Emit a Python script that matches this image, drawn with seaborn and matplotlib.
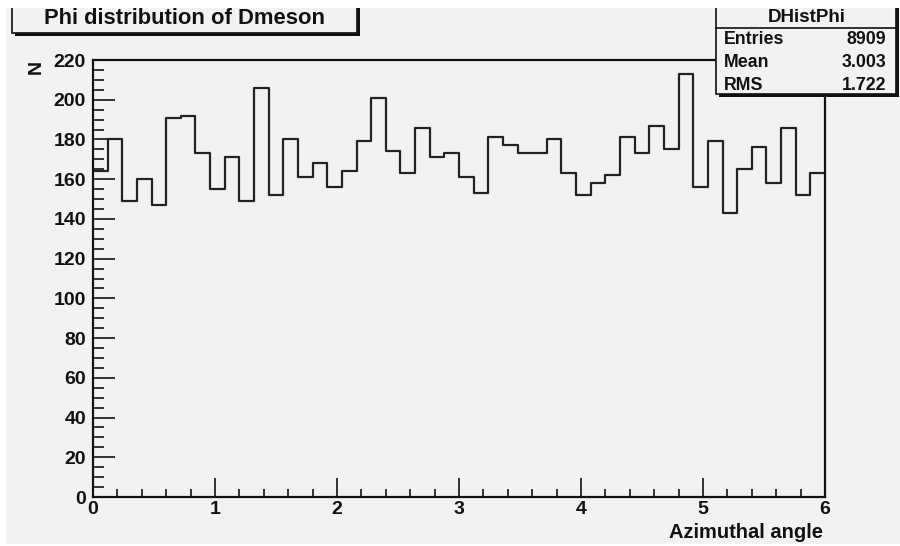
import numpy as np
import pandas as pd
import matplotlib
matplotlib.use("Agg")
import matplotlib.pyplot as plt
from matplotlib.patches import Rectangle
from matplotlib.ticker import MultipleLocator
import seaborn as sns

# ---- data ----
counts = [164, 180, 149, 160, 147, 191, 192, 173, 155, 171,
          149, 206, 152, 180, 161, 168, 156, 164, 179, 201,
          174, 163, 186, 171, 173, 161, 153, 181, 177, 173,
          173, 180, 163, 152, 158, 162, 181, 173, 187, 175,
          213, 156, 179, 143, 165, 176, 158, 186, 152, 163]
n_bins = 50
x_range = (0.0, 6.0)
x_ticks = [0, 1, 2, 3, 4, 5, 6]
y_ticks = [0, 20, 40, 60, 80, 100, 120, 140, 160, 180, 200, 220]
title = "Phi distribution of Dmeson"
x_label = "Azimuthal angle"
y_label = "N"
stats_name = "DHistPhi"
stats_rows = [("Entries", "8909"), ("Mean", "3.003"), ("RMS", "1.722")]

edges = np.linspace(x_range[0], x_range[1], n_bins + 1)
centers = (edges[:-1] + edges[1:]) / 2
df = pd.DataFrame({"phi": centers, "N": counts})

sns.set_theme(style="white")
plt.rcParams["font.family"] = ["Liberation Sans", "DejaVu Sans"]
plt.rcParams["font.weight"] = "bold"

W, H = 900, 546
BG = "#f2f2f2"
INK = "#111111"
fig = plt.figure(figsize=(9, 5.46), dpi=100, facecolor="white")


def fx(px):
    return px / W


def fy(py):
    return 1 - py / H


# gray canvas
fig.patches.append(Rectangle((fx(6), fy(544)), fx(894) - fx(0), fy(8) - fy(544),
                             transform=fig.transFigure, facecolor=BG,
                             edgecolor="none", zorder=-10))

ax = fig.add_axes([fx(93), fy(497), fx(825) - fx(93), fy(60) - fy(497)])
ax.set_facecolor(BG)

sns.histplot(data=df, x="phi", weights="N", bins=n_bins, binrange=x_range,
             element="step", fill=False, color="#222222", linewidth=1.6, ax=ax)

ax.set_xlim(*x_range)
ax.set_ylim(0, 220)
ax.set_xticks(x_ticks)
ax.set_yticks(y_ticks)
ax.xaxis.set_minor_locator(MultipleLocator(0.2))
ax.yaxis.set_minor_locator(MultipleLocator(5))
ax.tick_params(axis="x", which="major", direction="in", length=13.5, width=1.2,
               bottom=True, top=False, labelsize=14, pad=3, color=INK)
ax.tick_params(axis="x", which="minor", direction="in", length=6, width=1.2,
               bottom=True, top=False, color=INK)
ax.tick_params(axis="y", which="major", direction="in", length=16, width=1.2,
               left=True, right=False, labelsize=14, pad=5, color=INK)
ax.tick_params(axis="y", which="minor", direction="in", length=8, width=1.2,
               left=True, right=False, color=INK)
for lab in ax.get_xticklabels() + ax.get_yticklabels():
    lab.set_fontweight("bold")
    lab.set_color(INK)
for sp in ax.spines.values():
    sp.set_visible(True)
    sp.set_color(INK)
    sp.set_linewidth(1.6)

ax.set_xlabel("")
ax.set_ylabel("")
fig.text(fx(823), fy(532), x_label, ha="right", va="center", fontsize=14.5,
         fontweight="bold", color=INK)
fig.text(fx(36), fy(67), y_label, ha="center", va="center", fontsize=14,
         fontweight="bold", rotation=90, color=INK)


def box(x0, y0, x1, y1, z=20):
    # shadow
    fig.patches.append(Rectangle((fx(x0 + 3), fy(y1 + 3)), fx(x1) - fx(x0),
                                 fy(y0) - fy(y1), transform=fig.transFigure,
                                 facecolor=INK, edgecolor="none", zorder=z))
    fig.patches.append(Rectangle((fx(x0), fy(y1)), fx(x1) - fx(x0),
                                 fy(y0) - fy(y1), transform=fig.transFigure,
                                 facecolor=BG, edgecolor=INK, linewidth=1.2,
                                 zorder=z + 1))


# title box
box(12, -20, 357, 33)
fig.text(fx(184), fy(19), title, ha="center", va="center", fontsize=15.8,
         fontweight="bold", color=INK, zorder=30)

# stats box
box(716, -20, 896, 94)
fig.lines.append(plt.Line2D([fx(716), fx(896)], [fy(28), fy(28)],
                            transform=fig.transFigure, color=INK,
                            linewidth=1.2, zorder=25))
fig.text(fx(807), fy(17), stats_name, ha="center", va="center", fontsize=13.5,
         fontweight="bold", color=INK, zorder=30)
for i, (k, v) in enumerate(stats_rows):
    yy = 40 + i * 22.5
    fig.text(fx(724), fy(yy), k, ha="left", va="center", fontsize=12.8,
             fontweight="bold", color=INK, zorder=30)
    fig.text(fx(886), fy(yy), v, ha="right", va="center", fontsize=12.8,
             fontweight="bold", color=INK, zorder=30)

# white top strip (canvas border)
fig.patches.append(Rectangle((0, fy(8)), 1, 1 - fy(8), transform=fig.transFigure,
                             facecolor="white", edgecolor="none", zorder=100))

fig.savefig("out.png", dpi=100, facecolor="white")
